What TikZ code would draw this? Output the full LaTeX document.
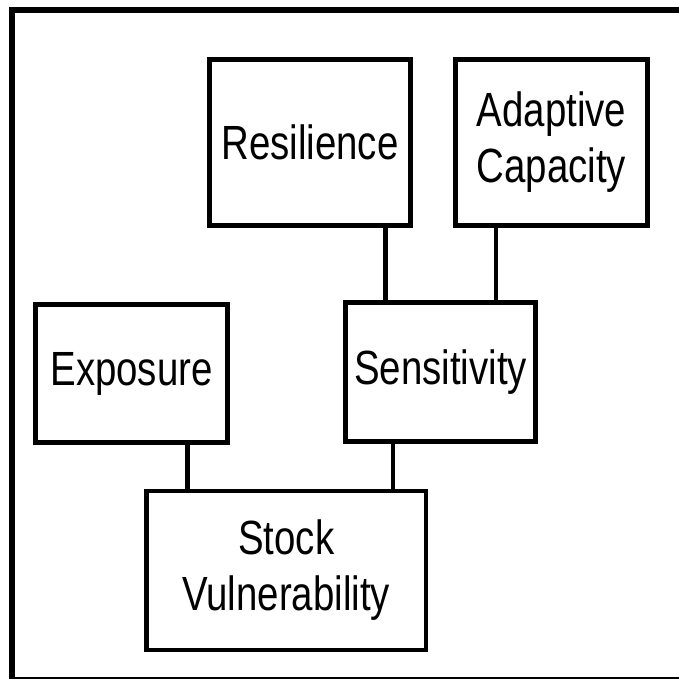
\documentclass[tikz,border=0pt]{standalone}
\usepackage{fontspec}
\setmainfont{Liberation Sans}[FakeStretch=0.8]
\begin{document}
\begin{tikzpicture}[x=1pt,y=-1pt,
  box/.style={draw, line width=4.5pt, align=center, inner sep=0pt,
    font=\fontsize{48}{56}\selectfont},
  link/.style={line width=4.5pt}]
\useasboundingbox (0,0) rectangle (679,679);
\fill[white] (0,0) rectangle (679,679);
\draw[line width=6pt] (12,10.5) rectangle (686,680);
\node[box, minimum width=201pt, minimum height=166pt] (res) at (310,142.5) {Resilience};
\node[box, minimum width=192pt, minimum height=166pt] (ada) at (551.5,142.5) {Adaptive\\Capacity};
\node[box, minimum width=192pt, minimum height=138pt] (exp) at (131.5,373.5) {Exposure};
\node[box, minimum width=190pt, minimum height=139pt] (sen) at (440.5,372) {Sensitivity};
\node[box, minimum width=279.5pt, minimum height=159pt] (sto) at (286.25,570.5) {Stock\\Vulnerability};
\draw[link] ([xshift=75.5pt]res.south) -- ([xshift=75.5pt]res.south |- sen.north);
\draw[link] ([xshift=-55.5pt]ada.south) -- ([xshift=-55.5pt]ada.south |- sen.north);
\draw[link] ([xshift=56pt]exp.south) -- ([xshift=56pt]exp.south |- sto.north);
\draw[link] ([xshift=-47.5pt]sen.south) -- ([xshift=-47.5pt]sen.south |- sto.north);
\end{tikzpicture}
\end{document}
